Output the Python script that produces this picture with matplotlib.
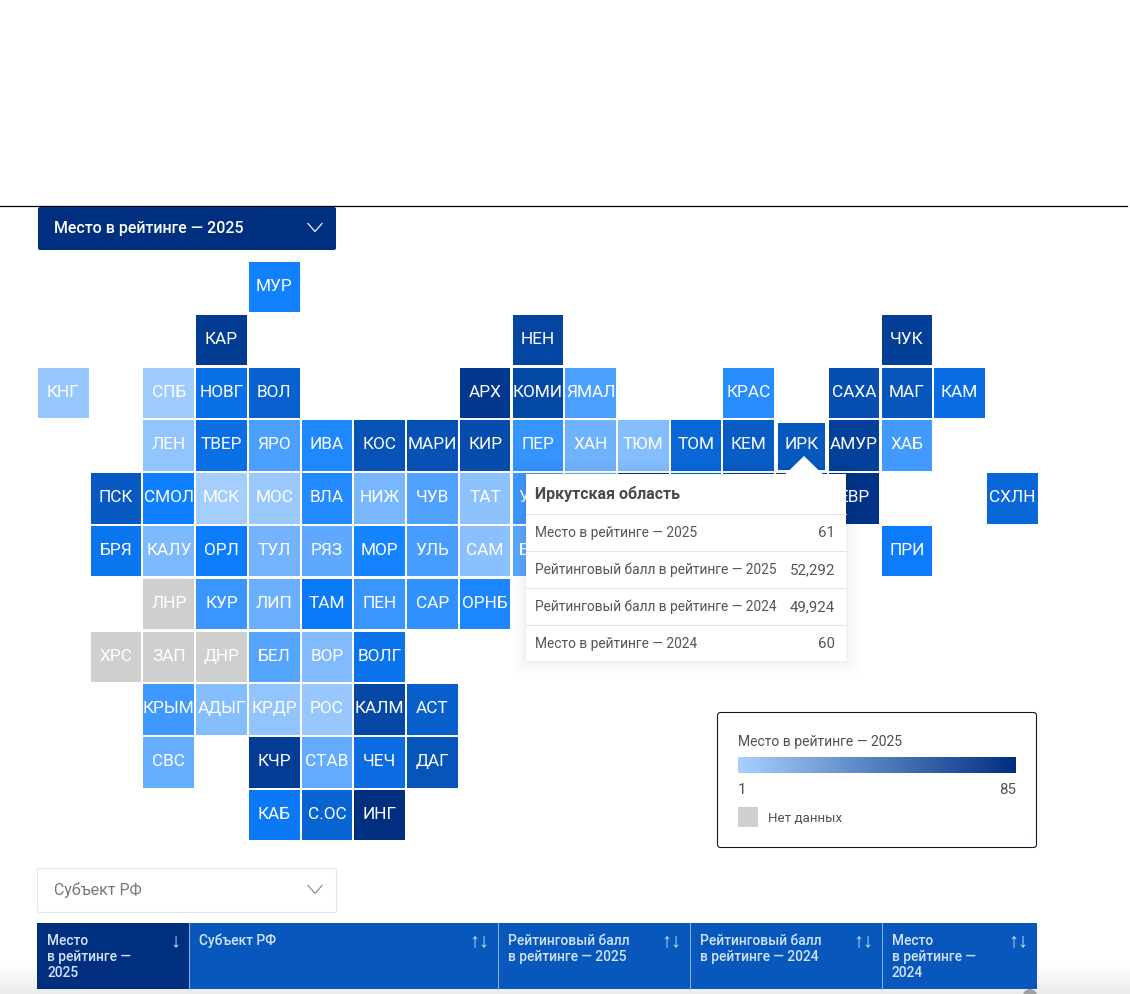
import numpy as np
import matplotlib
matplotlib.use('Agg')
import matplotlib.pyplot as plt
from matplotlib.colors import LinearSegmentedColormap, Normalize
from matplotlib.patches import FancyBboxPatch, Polygon, Rectangle

plt.rcParams['font.family'] = ['Roboto', 'DejaVu Sans']

# tile grid: one string per row, '.' is an empty cell, '_' a tile hidden by the tooltip
tile_codes = [
    '. . . . МУР',
    '. . . КАР . . . . . НЕН . . . . . . ЧУК',
    'КНГ . СПБ НОВГ ВОЛ . . . АРХ КОМИ ЯМАЛ . . КРАС . САХА МАГ КАМ',
    '. . ЛЕН ТВЕР ЯРО ИВА КОС МАРИ КИР ПЕР ХАН ТЮМ ТОМ КЕМ ИРК АМУР ХАБ',
    '. ПСК СМОЛ МСК МОС ВЛА НИЖ ЧУВ ТАТ УДМ _ _ _ _ _ ЕВР . . СХЛН',
    '. БРЯ КАЛУ ОРЛ ТУЛ РЯЗ МОР УЛЬ САМ БАШ . . . . . . ПРИ',
    '. . ЛНР КУР ЛИП ТАМ ПЕН САР ОРНБ',
    '. ХРС ЗАП ДНР БЕЛ ВОР ВОЛГ',
    '. . КРЫМ АДЫГ КРДР РОС КАЛМ АСТ',
    '. . СВС . КЧР СТАВ ЧЕЧ ДАГ',
    '. . . . КАБ С.ОС ИНГ',
]
# place in the rating per tile, in reading order; None means no data
tile_ranks = [
    [35],
    [78, 72, 76],
    [5, 3, 45, 55, 80, 70, 22, 30, 66, 62, 47],
    [6, 46, 22, 32, 64, 65, 68, 27, 14, 9, 52, 58, 61, 75, 24],
    [60, 36, 2, 4, 31, 12, 21, 7, 25, 15, 79, 50, 74, 73, 82, 51],
    [42, 11, 37, 13, 18, 34, 23, 8, 19, 38],
    [None, 26, 15, 39, 26, 28, 33],
    [None, None, None, 20, 10, 44],
    [25, 9, 6, 5, 71, 56],
    [16, 77, 17, 48, 63],
    [40, 53, 85],
]
rank_min, rank_max = 1, 85

dropdown_label = 'Место в рейтинге — 2025'
region_dropdown_label = 'Субъект РФ'
tooltip_title = 'Иркутская область'
tooltip_labels = ['Место в рейтинге — 2025', 'Рейтинговый балл в рейтинге — 2025',
                  'Рейтинговый балл в рейтинге — 2024', 'Место в рейтинге — 2024']
tooltip_values = ['61', '52,292', '49,924', '60']
legend_title = 'Место в рейтинге — 2025'
no_data_label = 'Нет данных'
table_headers = ['Место\nв рейтинге —\n2025', 'Субъект РФ',
                 'Рейтинговый балл\nв рейтинге — 2025',
                 'Рейтинговый балл\nв рейтинге — 2024',
                 'Место\nв рейтинге —\n2024']
table_arrows = ['↓', '↑↓', '↑↓', '↑↓', '↑↓']

W, H = 1130, 994
PX = 0.72  # css px to pt at dpi 100
NAVY = '#002F80'
BLUE = '#0757BD'
GREY = '#CFCFCF'
ARROW_FONT = ['Liberation Sans', 'DejaVu Sans']

tile_cmap = LinearSegmentedColormap.from_list(
    'tiles', [(0, '#A8D0FD'), (0.42, '#0C7EFF'), (0.72, BLUE), (1, NAVY)])
legend_cmap = LinearSegmentedColormap.from_list('legend', ['#A8D0FD', NAVY])
norm = Normalize(rank_min, rank_max)

fig = plt.figure(figsize=(W / 100, H / 100), dpi=100)

# page layer in pixels
ui = fig.add_axes([0, 0, 1, 1], zorder=1)
ui.set_xlim(0, W)
ui.set_ylim(H, 0)
ui.axis('off')

# grey fade at the bottom of the page
ui.imshow(np.linspace(0, 1, 30).reshape(-1, 1), extent=(0, W, 994, 964),
          cmap=LinearSegmentedColormap.from_list('fade', ['#FFFFFF', '#EAECEE']),
          aspect='auto', zorder=0)
ui.set_xlim(0, W)
ui.set_ylim(H, 0)
ui.plot([0, 1127], [206, 206], color='black', lw=0.9, zorder=1)


def chevron(x, y, color):
    ui.plot([x - 7, x, x + 7], [y - 4, y + 4, y - 4], color=color, lw=0.85, zorder=3)


def box(x0, y0, x1, y1, fc, ec='none', lw=0.0, r=2, z=2):
    ui.add_patch(FancyBboxPatch((x0 + r, y0 + r), x1 - x0 - 2 * r, y1 - y0 - 2 * r,
                                boxstyle='round,pad=%g,rounding_size=%g' % (r, r),
                                fc=fc, ec=ec, lw=lw, zorder=z))


# top dropdown
box(38, 207, 336, 250, NAVY)
ui.text(54, 228.5, dropdown_label, color='white', size=16 * PX, weight=500,
        va='center', zorder=3)
chevron(315, 227.5, 'white')

# tile map, one unit per cell
mp = fig.add_axes([37 / W, 1 - (261.5 + 11 * 52.8) / H, 19 * 52.72 / W, 11 * 52.8 / H],
                  zorder=2)
mp.set_xlim(0, 19)
mp.set_ylim(11, 0)
mp.axis('off')
mp.patch.set_alpha(0)
for r, (line, ranks) in enumerate(zip(tile_codes, tile_ranks)):
    vals = iter(ranks)
    for c, code in enumerate(line.split()):
        if code == '.':
            continue
        v = next(vals)
        color = GREY if v is None else tile_cmap(norm(v))
        if code == 'ИРК':
            # hovered tile is drawn inset
            mp.bar(c + 0.5, 0.9, width=0.89, bottom=r + 0.05, color=color, zorder=2)
        else:
            mp.bar(c + 0.5, 0.955, width=0.96, bottom=r + 0.01, color=color, zorder=2)
        if code != '_':
            mp.text(c + 0.5, r + 0.475, code, color='white', size=17.2 * PX,
                    ha='center', va='center', zorder=3)

# tooltip sits on top of the map
top = fig.add_axes([0, 0, 1, 1], zorder=3)
top.set_xlim(0, W)
top.set_ylim(H, 0)
top.axis('off')
top.patch.set_alpha(0)
for grow, alpha in zip([14, 10, 7, 4, 2], [0.006, 0.008, 0.01, 0.012, 0.015]):
    top.add_patch(FancyBboxPatch((526 - grow + 4, 474 - grow + 4), 320 + 2 * grow - 8,
                                 187 + 2 * grow - 8,
                                 boxstyle='round,pad=4,rounding_size=6',
                                 fc='black', ec='none', alpha=alpha))
top.add_patch(Rectangle((526, 474), 320, 187, fc='white', ec='none'))
top.add_patch(Polygon([[785, 474.5], [804, 456], [823, 474.5]], fc='white', ec='none'))
top.text(535, 494, tooltip_title, color='#4A4A4A', size=16 * PX, weight='bold', va='center')
for i, (lab, val) in enumerate(zip(tooltip_labels, tooltip_values)):
    y = 513.5 + 37 * i
    top.plot([526, 846], [y, y], color='#E4E4E4', lw=0.8)
    top.text(535, y + 19.5, lab, color='#555555', size=13.8 * PX, va='center')
    top.text(835, y + 19.5, val, color='#555555', size=15 * PX, va='center', ha='right')

# legend box
box(717.5, 712.5, 1036.5, 847.5, 'white', ec='#0F1A2A', lw=0.8, r=3)
ui.text(738, 742, legend_title, color='#505050', size=13.9 * PX, va='center', zorder=3)
ui.imshow(np.linspace(0, 1, 256).reshape(1, -1), extent=(738, 1016, 773, 757),
          cmap=legend_cmap, aspect='auto', zorder=3)
ui.set_xlim(0, W)
ui.set_ylim(H, 0)
ui.text(738, 789.5, str(rank_min), color='#505050', size=15 * PX, va='center', zorder=3)
ui.text(1016, 789.5, str(rank_max), color='#505050', size=15 * PX, va='center', ha='right', zorder=3)
ui.add_patch(Rectangle((738, 807), 20, 20, fc=GREY, ec='none', zorder=3))
ui.text(768, 818, no_data_label, color='#505050', size=13.4 * PX, va='center', zorder=3)

# region dropdown
box(37.5, 868.5, 336.5, 912.5, 'white', ec='#E6E6E6', lw=0.8)
ui.text(54, 890, region_dropdown_label, color='#7B7773', size=16 * PX, va='center', zorder=3)
chevron(315, 889.5, '#8A8A8A')

# table header
col_edges = [37, 189, 498, 690, 882, 1037]
for i, (head, arrow) in enumerate(zip(table_headers, table_arrows)):
    x0, x1 = col_edges[i], col_edges[i + 1]
    ui.add_patch(Rectangle((x0, 923), x1 - x0, 66, fc=NAVY if i == 0 else BLUE,
                           ec='none', zorder=2))
    if i:
        ui.plot([x0, x0], [923, 989], color='#8FB4E6', lw=0.7, zorder=3)
    ui.text(x0 + 10, 934, head, color='#D3E3F8', size=13.8 * PX, weight=500,
            va='top', linespacing=1.2, zorder=3)
    ui.text(x1 - 9, 940.5, arrow, color='#D3E3F8', size=20 * PX, ha='right',
            va='center', family=ARROW_FONT, zorder=3)

# scroll handle peeking at the bottom edge
ui.add_patch(plt.Circle((1030, 996), 7, fc='#A0A0A0', ec='none', zorder=3))

fig.savefig('out.png', dpi=100)
